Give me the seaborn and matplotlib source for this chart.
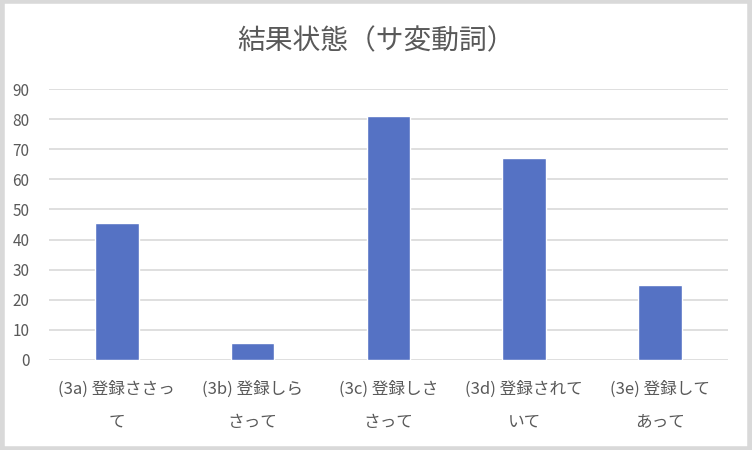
import matplotlib
matplotlib.use('Agg')
import matplotlib.pyplot as plt
import seaborn as sns
import pandas as pd

# data
categories = ['(3a) 登録ささっ\nて', '(3b) 登録しら\nさって', '(3c) 登録しさ\nさって',
              '(3d) 登録されて\nいて', '(3e) 登録して\nあって']
values = [45.5, 5.5, 81, 67, 25]
yticks = [0, 10, 20, 30, 40, 50, 60, 70, 80, 90]
title = '結果状態（サ変動詞）'

sns.set_style('white')
plt.rcParams['font.family'] = ['Noto Sans CJK JP', 'DejaVu Sans']

df = pd.DataFrame({'cat': categories, 'val': values})

fig = plt.figure(figsize=(7.52, 4.5), dpi=100)
ax = fig.add_axes([0.065, 0.2, 0.903, 0.602])

sns.barplot(data=df, x='cat', y='val', color='#5572C4', width=0.32,
            saturation=1, ax=ax, zorder=3)

ax.set_ylim(0, 90)
ax.set_yticks(yticks)
ax.yaxis.grid(True, color='#d9d9d9', linewidth=1.2, zorder=0)
ax.set_axisbelow(True)
for s in ax.spines.values():
    s.set_visible(False)
ax.set_xlabel('')
ax.set_ylabel('')
ax.tick_params(axis='both', length=0, colors='#595959')
ax.tick_params(axis='y', pad=14, labelsize=11)
ax.tick_params(axis='x', pad=15, labelsize=12)
for lbl in ax.get_xticklabels():
    lbl.set_linespacing(2.2)
    lbl.set_verticalalignment('top')

fig.text(0.5, 0.908, title, ha='center', va='center', fontsize=20, color='#595959')

# light grey frame round the chart
fig.patches.append(plt.Rectangle((0.002, 0.003), 0.996, 0.994, transform=fig.transFigure,
                                 fill=False, edgecolor='#d9d9d9', linewidth=4))

fig.savefig('out.png', dpi=100)
